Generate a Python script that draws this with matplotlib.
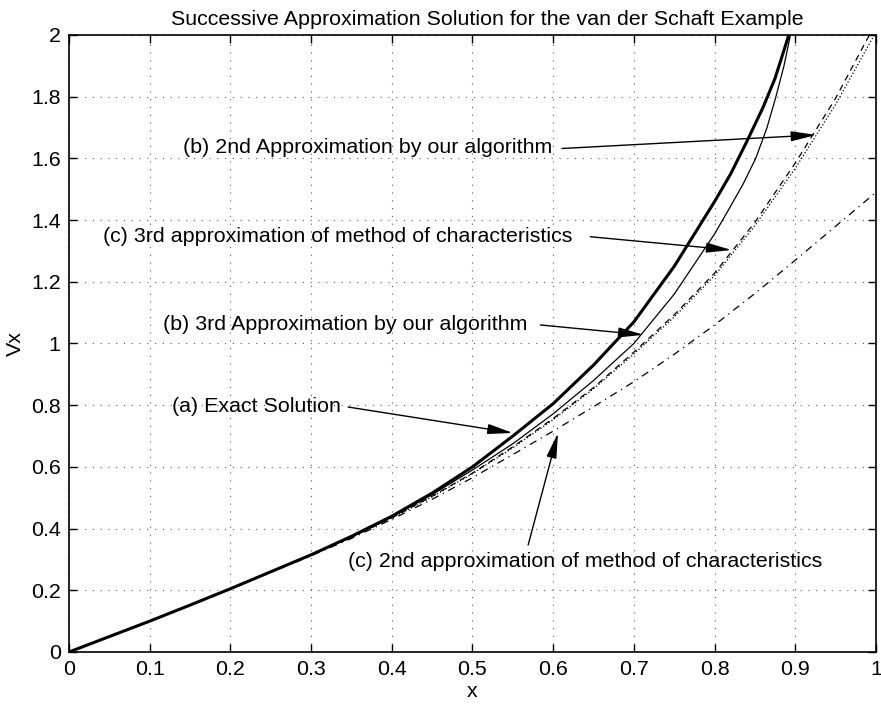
import numpy as np
import matplotlib.pyplot as plt

plt.rcParams['font.family'] = ['Liberation Sans', 'DejaVu Sans']

# curves
x_exact = [0, 0.05, 0.1, 0.15, 0.2, 0.25, 0.3, 0.35, 0.4, 0.45, 0.5, 0.55, 0.6, 0.65, 0.7,
           0.75, 0.8, 0.82, 0.84, 0.86, 0.875, 0.892]
y_exact = [0, 0.05, 0.10, 0.152, 0.205, 0.26, 0.315, 0.375, 0.44, 0.515, 0.60, 0.70, 0.805, 0.93, 1.07,
           1.25, 1.46, 1.55, 1.655, 1.765, 1.86, 2.0]

x_ours3 = [0, 0.05, 0.1, 0.15, 0.2, 0.25, 0.3, 0.35, 0.4, 0.45, 0.5, 0.55, 0.6, 0.65, 0.7,
           0.75, 0.8, 0.817, 0.835, 0.851, 0.865, 0.876, 0.886, 0.894]
y_ours3 = [0, 0.05, 0.10, 0.152, 0.205, 0.26, 0.315, 0.374, 0.438, 0.51, 0.59, 0.675, 0.772, 0.88, 1.0,
           1.16, 1.355, 1.432, 1.515, 1.6, 1.7, 1.8, 1.9, 2.0]

x_ours2 = [0, 0.05, 0.1, 0.15, 0.2, 0.25, 0.3, 0.35, 0.4, 0.45, 0.5, 0.55, 0.6, 0.65, 0.7,
           0.75, 0.8, 0.85, 0.9, 0.95, 1.0]
y_ours2 = [0, 0.05, 0.10, 0.152, 0.205, 0.26, 0.314, 0.372, 0.435, 0.505, 0.58, 0.665, 0.757, 0.857, 0.972,
           1.093, 1.228, 1.393, 1.585, 1.795, 2.04]

x_char3 = [0, 0.05, 0.1, 0.15, 0.2, 0.25, 0.3, 0.35, 0.4, 0.45, 0.5, 0.55, 0.6, 0.65, 0.7,
           0.75, 0.8, 0.85, 0.9, 0.95, 1.0]
y_char3 = [0, 0.05, 0.10, 0.152, 0.205, 0.26, 0.314, 0.372, 0.434, 0.503, 0.578, 0.662, 0.753, 0.853, 0.966,
           1.086, 1.22, 1.382, 1.568, 1.775, 2.01]

x_char2 = [0, 0.05, 0.1, 0.15, 0.2, 0.25, 0.3, 0.35, 0.4, 0.45, 0.5, 0.55, 0.6, 0.65, 0.7,
           0.75, 0.8, 0.85, 0.9, 0.95, 1.0]
y_char2 = [0, 0.05, 0.10, 0.152, 0.205, 0.258, 0.312, 0.368, 0.43, 0.495, 0.565, 0.64, 0.716, 0.795, 0.876,
           0.965, 1.06, 1.162, 1.27, 1.38, 1.49]

# annotation text, text anchor (left, center), arrow tail and arrow tip
notes = ["(b) 2nd Approximation by our algorithm",
         "(c) 3rd approximation of method of characteristics",
         "(b) 3rd Approximation by our algorithm",
         "(a) Exact Solution",
         "(c) 2nd approximation of method of characteristics"]
note_xy = [(0.141, 1.634), (0.042, 1.348), (0.116, 1.06), (0.128, 0.797), (0.346, 0.292)]
tail_xy = [(0.611, 1.632), (0.646, 1.346), (0.584, 1.06), (0.346, 0.794), (0.569, 0.347)]
tip_xy = [(0.926, 1.676), (0.821, 1.303), (0.712, 1.028), (0.55, 0.71), (0.606, 0.71)]

fs = 15.4

fig = plt.figure(figsize=(8.81, 7.08), dpi=100)
ax = fig.add_axes([0.0783, 0.0791, 0.916, 0.8715])

ax.plot(x_exact, y_exact, 'k-', lw=2.2)
ax.plot(x_ours3, y_ours3, 'k-', lw=0.9)
ax.plot(x_ours2, y_ours2, 'k--', lw=0.9, dashes=(5, 4))
ax.plot(x_char3, y_char3, 'k:', lw=0.9)
ax.plot(x_char2, y_char2, 'k-.', lw=0.9, dashes=(6, 4, 1, 4))

for txt, (tx, ty), (ax0, ay0), (hx, hy) in zip(notes, note_xy, tail_xy, tip_xy):
    ax.text(tx, ty, txt, fontsize=fs, ha='left', va='center')
    ax.annotate('', xy=(hx, hy), xytext=(ax0, ay0),
                arrowprops=dict(arrowstyle='-|>,head_length=1.1,head_width=0.22',
                                color='k', lw=1, shrinkA=0, shrinkB=0,
                                mutation_scale=14))

ax.set_xlim(0, 1)
ax.set_ylim(0, 2)
ax.set_xticks(np.arange(0, 1.01, 0.1))
ax.set_yticks(np.arange(0, 2.01, 0.2))
ax.set_xticklabels(['0', '0.1', '0.2', '0.3', '0.4', '0.5', '0.6', '0.7', '0.8', '0.9', '1'])
ax.set_yticklabels(['0', '0.2', '0.4', '0.6', '0.8', '1', '1.2', '1.4', '1.6', '1.8', '2'])
ax.tick_params(direction='in', top=True, right=True, length=6, width=1, labelsize=fs, pad=6)
ax.grid(True, color='0.35', linestyle=(0, (1, 6)), lw=0.8)
for s in ax.spines.values():
    s.set_linewidth(1.2)

ax.set_xlabel('x', fontsize=fs, labelpad=2)
ax.set_ylabel('Vx', fontsize=fs, labelpad=4)
ax.set_title('Successive Approximation Solution for the van der Schaft Example',
             fontsize=fs, pad=7, x=0.518)

fig.savefig('out.png', dpi=100)
